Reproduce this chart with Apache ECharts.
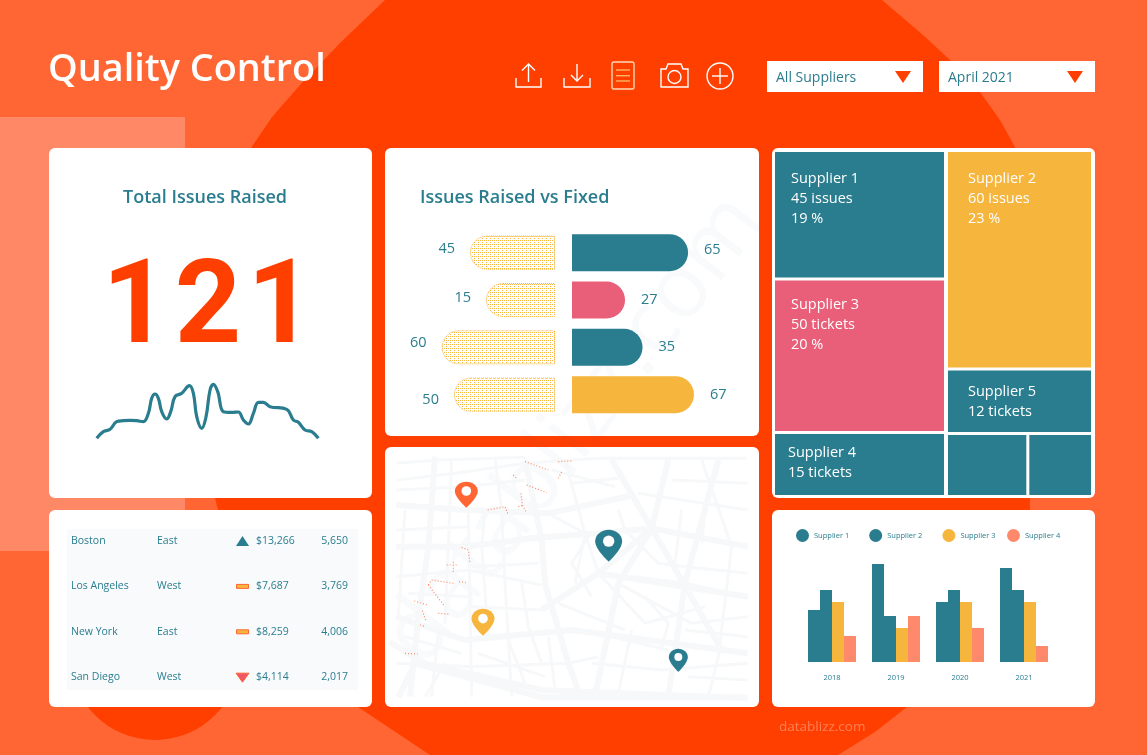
<!DOCTYPE html>
<html lang="en">
<head>
<meta charset="UTF-8">
<title>Quality Control</title>
<script src="https://cdn.jsdelivr.net/npm/echarts@6/dist/echarts.min.js"></script>
<style>
html, body { margin: 0; padding: 0; background: #ff6633; }
#main { width: 1147px; height: 755px; }
</style>
</head>
<body>
<div id="main"></div>
<script>
var TEAL = '#2a7d8f', YELLOW = '#f6b53d', PINK = '#e95e78', SALMON = '#ff8a6b', RED = '#ff3f00';
var FONT = '"Open Sans", "Noto Sans", sans-serif';

// big number + sparkline
var totalIssues = '121';
var sparkX = [140,160,180,200,220,240,260,280,295,305,315,325,335,350,362,375,395,418,430,440,455,468,480,490,503,520,545,565,580,595,610,625,640,660,710,730,745,765,785,805];
var sparkY = [5,25,32,55,58,59,58,55,80,125,138,125,85,63,85,130,140,163,140,70,35,70,150,167,145,85,83,84,60,48,80,113,113,100,92,60,53,30,25,5];

// raised vs fixed
var rowColors = [TEAL, PINK, TEAL, YELLOW];
var raisedLabels = [45, 15, 60, 50];
var raisedBars = [45, 36.5, 60, 53.5];
var fixedLabels = [65, 27, 35, 67];
var fixedBars = [65, 29.7, 39.5, 68.3];
var rowNames = ['a', 'b', 'c', 'd'];
var raisedLabelShift = [-4, -2, -4, 5];
var fixedLabelShift = [-3, 0, 0, 0];

// treemap
var supplierNames = ['Supplier 1', 'Supplier 2', 'Supplier 3', 'Supplier 4', 'Supplier 5'];
var supplierCounts = [45, 60, 50, 15, 12];
var supplierUnits = ['issues', 'issues', 'tickets', 'tickets', 'tickets'];
var supplierPct = [19, 23, 20, null, null];
var cellShares = [20.1, 29.2, 24.0, 10.0, 8.6];
var extraShares = [4.4, 3.5];

// table
var cities = ['Boston', 'Los Angeles', 'New York', 'San Diego'];
var regions = ['East', 'West', 'East', 'West'];
var sales = ['$13,266', '$7,687', '$8,259', '$4,114'];
var units = ['5,650', '3,769', '4,006', '2,017'];
var trends = ['up', 'flat', 'flat', 'down'];

// grouped bars
var years = ['2018', '2019', '2020', '2021'];
var legendNames = ['Supplier 1', 'Supplier 2', 'Supplier 3', 'Supplier 4'];
var supplier1 = [26, 49, 30, 47];
var supplier2 = [36, 23, 36, 36];
var supplier3 = [30, 17, 30, 30];
var supplier4 = [13, 23, 17, 8];

// map, in map units
var pins = [[244,134],[294,517],[671,287],[880,631]];
var roadsMajor = [
  [[33,290],[240,290],[440,265],[640,250],[800,235],[1088,290]],
  [[33,165],[240,180],[490,190],[750,135]],
  [[33,500],[240,570],[560,540],[1088,610]],
  [[150,20],[130,290],[100,500],[75,740]],
  [[420,30],[470,270],[480,400],[550,640],[590,750]],
  [[680,30],[800,235],[700,400],[630,740]],
  [[850,30],[800,235],[1010,600]],
  [[1000,30],[900,400],[850,740]],
  [[470,480],[640,370],[800,235]],
  [[640,370],[1088,440]],
  [[12,575],[120,640],[470,720],[1088,745]],
  [[40,742],[90,640],[470,742],[1085,742]]
];
var roadsMinor = [
  [[35,90],[210,70],[420,40],[640,25],[1085,25]],
  [[35,40],[160,30],[420,22]],
  [[250,180],[260,740]],
  [[330,25],[350,180],[360,400],[380,740]],
  [[60,180],[40,500]],
  [[33,380],[250,360],[470,405]],
  [[33,640],[260,650],[550,640],[640,620]],
  [[260,470],[470,480],[530,440]],
  [[540,30],[600,250],[570,400]],
  [[490,190],[600,250],[640,370],[780,520],[960,470]],
  [[520,460],[620,500],[720,540]],
  [[860,90],[1088,100]],
  [[760,130],[1088,180]],
  [[750,380],[900,400],[1088,440]],
  [[950,30],[1040,290]],
  [[1040,290],[1000,620],[970,740]],
  [[700,400],[920,520],[1088,500]],
  [[620,640],[830,660],[1088,640]],
  [[370,570],[420,700]],
  [[160,540],[140,740]],
  [[560,100],[700,85]],
  [[500,60],[690,110]],
  [[70,430],[250,440]],
  [[180,640],[120,740]],
  [[740,540],[700,730]],
  [[200,30],[190,290],[180,520]],
  [[300,190],[290,290],[310,560]],
  [[33,240],[250,230]],
  [[33,120],[240,110],[420,90]],
  [[260,350],[460,340]],
  [[410,400],[430,530],[470,640]],
  [[490,560],[510,720]],
  [[610,260],[560,340],[620,440]],
  [[700,180],[720,240],[820,340]],
  [[890,180],[870,340]],
  [[960,190],[950,280]],
  [[820,340],[900,350],[1088,370]],
  [[780,440],[850,520],[830,590]],
  [[900,540],[1088,560]],
  [[910,680],[1088,690]],
  [[680,560],[850,600]],
  [[280,610],[480,680]],
  [[60,560],[230,610]]
];
var dither = [
  [[420,35],[490,60]],[[520,35],[565,32]],[[520,85],[530,65]],[[385,75],[395,85]],
  [[425,105],[485,128]],[[408,130],[412,165],[425,188]],[[400,170],[415,165]],
  [[308,180],[360,170],[370,195]],[[230,292],[250,300],[255,340]],[[185,345],[215,345]],
  [[205,335],[205,365]],[[130,405],[140,390],[205,400]],[[130,405],[178,468]],
  [[88,453],[128,465]],[[112,482],[122,510]],[[105,525],[122,530]],[[160,490],[195,493]],
  [[222,395],[242,398]],[[60,610],[98,612]]
];

function flatten(lines) {
  var out = [];
  lines.forEach(function (l) {
    l.forEach(function (p) { out.push(p); });
    out.push(['-', '-']);
  });
  return out;
}

function txt(text, x, y, size, fill, align, weight, family) {
  return {
    type: 'text', silent: true,
    style: {
      text: text, x: x, y: y, fill: fill, fontSize: size, fontWeight: weight || 400,
      fontFamily: family || FONT, textAlign: align || 'left', align: align || 'left',
      verticalAlign: 'middle', textVerticalAlign: 'middle'
    }
  };
}
function panel(x, y, w, h) {
  return { type: 'rect', silent: true, shape: { x: x, y: y, width: w, height: h, r: 6 }, style: { fill: '#fff' } };
}
function stroke(type, shape, color) {
  return { type: type, silent: true, shape: shape, style: { fill: 'none', stroke: color || '#fff', lineWidth: 1.4 } };
}

// stipple for the raised bars
function stipple() {
  var c = document.createElement('canvas');
  c.width = 4; c.height = 4;
  var ctx = c.getContext('2d');
  ctx.fillStyle = '#fff';
  ctx.fillRect(0, 0, 4, 4);
  ctx.fillStyle = YELLOW;
  ctx.fillRect(0, 0, 1, 1);
  ctx.fillRect(2, 2, 1, 1);
  ctx.fillRect(2, 0, 1, 1);
  return c;
}

var g = [];
// background
g.push({ type: 'rect', silent: true, shape: { x: 0, y: 0, width: 1147, height: 755 }, style: { fill: '#ff6633' } });
g.push({ type: 'rect', silent: true, shape: { x: 0, y: 117, width: 185, height: 434 }, style: { fill: '#ff8866' } });
g.push({ type: 'polygon', silent: true, shape: { points: [
  [385,0],[882,0],[923,35],[950,60],[980,92],[1000,120],[1015,147],[1030,300],[1030,600],[907,707],[875,732],[838,755],
  [430,755],[358,707],[218,510],[215,498],[210,300],[251,148],[272,117],[300,85],[340,43]
] }, style: { fill: RED } });
g.push({ type: 'circle', silent: true, shape: { cx: 155, cy: 655, r: 85 }, style: { fill: RED } });

// panels
g.push(panel(49, 148, 323, 350), panel(49, 510, 323, 197), panel(385, 148, 374, 288), panel(385, 447, 374, 260), panel(772, 148, 323, 350), panel(772, 510, 323, 197));
g.push({ type: 'text', silent: true, rotation: 52.6 * Math.PI / 180, x: 575, y: 430,
  style: { text: 'datablizz.com', fontSize: 88, fontFamily: FONT, fill: 'rgba(40,80,120,0.03)', align: 'center', verticalAlign: 'middle', textAlign: 'center', textVerticalAlign: 'middle' } });

// header
g.push(txt('Quality Control', 48, 70, 37.8, '#fff', 'left', 600));
g.push(stroke('polyline', { points: [[516,78],[516,87],[541,87],[541,78]] }), stroke('polyline', { points: [[528.5,82],[528.5,64]] }), stroke('polyline', { points: [[522,70.5],[528.5,64],[535,70.5]] }));
g.push(stroke('polyline', { points: [[564,78],[564,87],[590,87],[590,78]] }), stroke('polyline', { points: [[577,64],[577,81]] }), stroke('polyline', { points: [[571,75],[577,81],[583,75]] }));
g.push({ type: 'rect', silent: true, shape: { x: 612, y: 62, width: 22, height: 27, r: 2 }, style: { fill: 'none', stroke: '#ffd9b0', lineWidth: 1.4 } });
[70, 75.7, 81].forEach(function (y) { g.push(stroke('line', { x1: 616, y1: y, x2: 630, y2: y }, '#ffb562')); });
g.push(stroke('polygon', { points: [[661,69],[666,69],[668,64],[681,64],[683,69],[688,69],[688,87],[661,87]] }), stroke('circle', { cx: 674.5, cy: 77, r: 6.5 }));
g.push(stroke('circle', { cx: 720, cy: 76, r: 13 }), stroke('line', { x1: 712, y1: 76, x2: 728, y2: 76 }), stroke('line', { x1: 720, y1: 68, x2: 720, y2: 84 }));
[[767, 'All Suppliers', 903], [939, 'April 2021', 1075]].forEach(function (d) {
  g.push({ type: 'rect', silent: true, shape: { x: d[0], y: 61, width: 156, height: 31 }, style: { fill: '#fff' } });
  g.push(txt(d[1], d[0] + 9, 78, 14, TEAL));
  g.push({ type: 'polygon', silent: true, shape: { points: [[d[2] - 8, 71], [d[2] + 8, 71], [d[2], 83]] }, style: { fill: RED } });
});

// card titles
g.push(txt('Total Issues Raised', 205, 198, 18, TEAL, 'center', 600));
g.push(txt('Issues Raised vs Fixed', 420, 198, 18, TEAL, 'left', 600));
// digits set one by one, the reference has wider spacing than the font
totalIssues.split('').forEach(function (d, i) {
  g.push(txt(d, 208 + (i - 1) * 72.5, 312.5, 116, RED, 'center', 700, 'Roboto, sans-serif'));
});

// table
g.push({ type: 'rect', silent: true, shape: { x: 67, y: 529, width: 291, height: 161 }, style: { fill: '#f8fafc' } });
cities.forEach(function (c, i) {
  var y = 541 + i * 45.4;
  g.push(txt(c, 71, y, 10.5, TEAL), txt(regions[i], 157, y, 10.5, TEAL), txt(sales[i], 256, y, 10.5, TEAL), txt(units[i], 348, y, 10.5, TEAL, 'right'));
  if (trends[i] === 'up') {
    g.push({ type: 'polygon', silent: true, shape: { points: [[236, y + 5], [249, y + 5], [242.5, y - 5]] }, style: { fill: TEAL } });
  } else if (trends[i] === 'down') {
    g.push({ type: 'polygon', silent: true, shape: { points: [[236, y - 4], [249, y - 4], [242.5, y + 5]] }, style: { fill: '#f0566a', stroke: '#ff6633' } });
  } else {
    g.push({ type: 'rect', silent: true, shape: { x: 236.5, y: y - 2, width: 12, height: 4 }, style: { fill: YELLOW, stroke: '#ff6633', lineWidth: 1 } });
  }
});

// footer
g.push(txt('datablizz.com', 779, 727, 13.5, '#ff8058'));

function treemapLeaf(i, pos) {
  var lines = [supplierNames[i], supplierCounts[i] + ' ' + supplierUnits[i]];
  if (supplierPct[i] !== null) lines.push(supplierPct[i] + ' %');
  return {
    name: supplierNames[i], value: cellShares[i],
    itemStyle: { color: [TEAL, YELLOW, PINK, TEAL, TEAL][i] },
    label: { show: true, position: pos, formatter: lines.join('\n') }
  };
}
function treemapSeries(name, box, data) {
  return {
    type: 'treemap', name: name, left: box[0], top: box[1], width: box[2], height: box[3],
    roam: false, nodeClick: false, sort: false, silent: true, breadcrumb: { show: false },
    itemStyle: { gapWidth: 3, borderWidth: 0 },
    label: { color: '#fff', fontSize: 14.5, lineHeight: 20, fontFamily: FONT, overflow: 'none' },
    levels: [{ itemStyle: { gapWidth: 3, borderWidth: 0 } }],
    data: data
  };
}

var pinSizes = [[23, 26], [23, 27], [27, 32], [19, 23]];
var pinColors = ['#ff6633', YELLOW, TEAL, TEAL];

var option = {
  animation: false,
  graphic: { elements: g },
  legend: [
    { data: legendNames.slice(0, 3), left: 796, top: 529, itemWidth: 13, itemHeight: 13, itemGap: 20, icon: 'circle', selectedMode: false, textStyle: { color: TEAL, fontSize: 7.5, fontFamily: FONT }, padding: 0 },
    { data: legendNames.slice(3), left: 1007, top: 529, itemWidth: 13, itemHeight: 13, icon: 'circle', selectedMode: false, textStyle: { color: TEAL, fontSize: 7.5, fontFamily: FONT }, padding: 0 }
  ],
  grid: [
    { left: 96.7, top: 370, width: 221.7, height: 70 },
    { left: 405, top: 229, width: 150, height: 189.3 },
    { left: 572, top: 229, width: 160, height: 189.3 },
    { left: 800, top: 556, width: 256, height: 106 },
    { left: 385, top: 450, width: 375, height: 260 }
  ],
  xAxis: [
    { gridIndex: 0, type: 'value', min: 140, max: 805, show: false },
    { gridIndex: 1, type: 'value', min: 0, max: 79.4, inverse: true, show: false },
    { gridIndex: 2, type: 'value', min: 0, max: 89.6, show: false },
    { gridIndex: 3, type: 'category', data: years, axisLine: { show: false }, axisTick: { show: false },
      axisLabel: { color: TEAL, fontSize: 7.5, margin: 12, fontFamily: FONT } },
    { gridIndex: 4, type: 'value', min: 0, max: 1125, show: false }
  ],
  yAxis: [
    { gridIndex: 0, type: 'value', min: 0, max: 210, show: false },
    { gridIndex: 1, type: 'category', data: rowNames, inverse: true, show: false },
    { gridIndex: 2, type: 'category', data: rowNames, inverse: true, show: false },
    { gridIndex: 3, type: 'value', min: 0, max: 53, show: false },
    { gridIndex: 4, type: 'value', min: 0, max: 780, inverse: true, show: false }
  ],
  series: [
    { type: 'line', name: 'spark', xAxisIndex: 0, yAxisIndex: 0, smooth: 0.4, showSymbol: false, silent: true, clip: false,
      lineStyle: { color: TEAL, width: 3.2 }, data: sparkX.map(function (x, i) { return [x, sparkY[i]]; }) },
    { type: 'bar', name: 'raised', xAxisIndex: 1, yAxisIndex: 1, barWidth: 34, silent: true,
      data: raisedBars.map(function (v, i) {
        return { value: v, label: { show: true, position: 'left', distance: 15, offset: [0, raisedLabelShift[i]], formatter: String(raisedLabels[i]), color: TEAL, fontSize: 14.5, fontFamily: FONT } };
      }),
      itemStyle: { color: { image: stipple(), repeat: 'repeat' }, borderRadius: [17, 0, 0, 17], borderColor: YELLOW, borderWidth: 1, borderType: [1, 1] } },
    { type: 'bar', name: 'fixed', xAxisIndex: 2, yAxisIndex: 2, barWidth: 37, silent: true,
      data: fixedBars.map(function (v, i) {
        return { value: v, itemStyle: { color: rowColors[i], borderRadius: [0, 18.5, 18.5, 0] },
          label: { show: true, position: 'right', distance: 16, offset: [0, fixedLabelShift[i]], formatter: String(fixedLabels[i]), color: TEAL, fontSize: 14.5, fontFamily: FONT } };
      }) },
    { type: 'bar', name: legendNames[0], xAxisIndex: 3, yAxisIndex: 3, barWidth: 12, barGap: 0, silent: true, itemStyle: { color: TEAL }, data: supplier1 },
    { type: 'bar', name: legendNames[1], xAxisIndex: 3, yAxisIndex: 3, barWidth: 12, silent: true, itemStyle: { color: TEAL }, data: supplier2 },
    { type: 'bar', name: legendNames[2], xAxisIndex: 3, yAxisIndex: 3, barWidth: 12, silent: true, itemStyle: { color: YELLOW }, data: supplier3 },
    { type: 'bar', name: legendNames[3], xAxisIndex: 3, yAxisIndex: 3, barWidth: 12, silent: true, itemStyle: { color: SALMON }, data: supplier4 },
    { type: 'line', name: 'roadsMajor', xAxisIndex: 4, yAxisIndex: 4, showSymbol: false, silent: true, connectNulls: false, lineStyle: { color: '#f6f8fa', width: 6 }, data: flatten(roadsMajor) },
    { type: 'line', name: 'roadsMinor', xAxisIndex: 4, yAxisIndex: 4, showSymbol: false, silent: true, connectNulls: false, lineStyle: { color: '#f6f8fa', width: 3 }, data: flatten(roadsMinor) },
    { type: 'line', name: 'dither', xAxisIndex: 4, yAxisIndex: 4, showSymbol: false, silent: true, connectNulls: false, lineStyle: { color: SALMON, width: 1.2, type: [1, 2] }, data: flatten(dither) },
    { type: 'scatter', name: 'pins', xAxisIndex: 4, yAxisIndex: 4, silent: true, z: 5,
      symbol: 'path://M12 0C5.4 0 0 5.2 0 11.6 0 20 12 32 12 32S24 20 24 11.6C24 5.2 18.6 0 12 0Z',
      data: pins.map(function (p, i) {
        return { value: p, symbolSize: pinSizes[i], itemStyle: { color: pinColors[i], opacity: 1 } };
      }) },
    { type: 'scatter', name: 'pinHoles', xAxisIndex: 4, yAxisIndex: 4, silent: true, z: 6, symbol: 'circle',
      data: pins.map(function (p, i) {
        return { value: p, symbolSize: pinSizes[i][0] * 0.42, symbolOffset: [0, -pinSizes[i][1] * 0.14], itemStyle: { color: '#fff', opacity: 1 } };
      }) },
    treemapSeries('columnLeft', [775, 152, 169, 343], [
      treemapLeaf(0, [11, 12]), treemapLeaf(2, [11, 9]), treemapLeaf(3, [8, 4])
    ]),
    treemapSeries('columnRight', [948, 152, 143, 280], [
      treemapLeaf(1, [15, 12]), treemapLeaf(4, [15, 6])
    ]),
    treemapSeries('columnSmall', [948, 435, 143, 60], [
      { name: 'a', value: extraShares[0], itemStyle: { color: TEAL }, label: { show: false } },
      { name: 'b', value: extraShares[1], itemStyle: { color: TEAL }, label: { show: false } }
    ])
  ]
};

var chart = echarts.init(document.getElementById('main'));
chart.setOption(option);
</script>
</body>
</html>
